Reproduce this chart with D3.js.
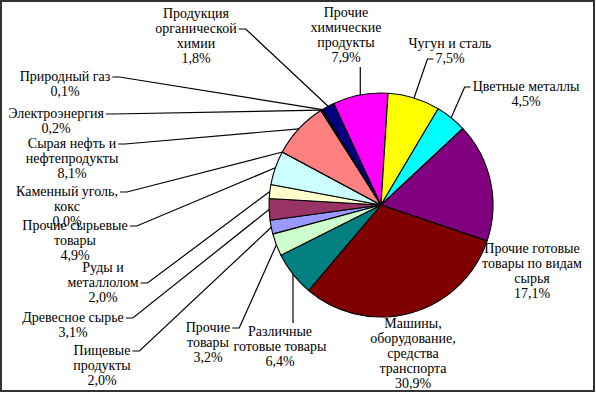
<!DOCTYPE html>
<html><head><meta charset="utf-8">
<script src="https://cdnjs.cloudflare.com/ajax/libs/d3/7.8.5/d3.min.js"></script>
<style>
html,body{margin:0;padding:0;background:#fff;}
svg{display:block;}
</style></head>
<body>
<svg id="chart" width="596" height="393"></svg>
<script>
// ---- data ----
const categories = [
  "Пищевые\nпродукты",
  "Древесное сырье",
  "Руды и\nметаллолом",
  "Прочие сырьевые\nтовары",
  "Каменный уголь,\nкокс",
  "Сырая нефть и\nнефтепродукты",
  "Электроэнергия",
  "Природный газ",
  "Продукция\nорганической\nхимии",
  "Прочие\nхимические\nпродукты",
  "Чугун и сталь",
  "Цветные металлы",
  "Прочие готовые\nтовары по видам\nсырья",
  "Машины,\nоборудование,\nсредства\nтранспорта",
  "Различные\nготовые товары",
  "Прочие\nтовары"
];
const values = [2.0, 3.1, 2.0, 4.9, 0.0, 8.1, 0.2, 0.1, 1.8, 7.9, 7.5, 4.5, 17.1, 30.9, 6.4, 3.2];
const colors = ["#9999FF","#993366","#FFFFCC","#CCFFFF","#660066","#FF8080","#0066CC","#CCCCFF",
                "#000080","#FF00FF","#FFFF00","#00FFFF","#800080","#800000","#008080","#CCFFCC"];

// ---- layout (label placement: centre x, first-line centre y, leader anchor) ----
const labelLayout = [
  {x:102, y:350, a:"r", line:0},
  {x:73,  y:317, a:"r", line:0},
  {x:103, y:267, a:"r", line:1},
  {x:75,  y:225, a:"r", line:0},
  {x:67,  y:191, a:"r", line:0},
  {x:72,  y:143, a:"r", line:0},
  {x:56,  y:113, a:"r", line:0},
  {x:65,  y:76,  a:"r", line:0},
  {x:196, y:13,  a:"r", line:1},
  {x:346, y:12,  a:"b"},
  {x:450, y:43,  a:"l", line:1},
  {x:526, y:86,  a:"l", line:0},
  {x:532, y:248, a:"n"},
  {x:413, y:323, a:"n"},
  {x:280, y:331, a:"t"},
  {x:208, y:327, a:"r", line:0}
];

const W = 596, H = 393;
const cx = 381, cy = 205, R = 112;
const lineH = 15;
const FONT = "'Liberation Serif', 'Times New Roman', Times, 'DejaVu Serif', serif";
const svg = d3.select("#chart");

svg.append("rect").attr("x",1).attr("y",1).attr("width",W-3).attr("height",H-3)
  .attr("fill","#fff").attr("stroke","#333").attr("stroke-width",2);

const total = d3.sum(values);
const startDeg = 3.6 - d3.sum(values.slice(0,10))/total*360;
const pie = d3.pie().sort(null).value(d=>d)
  .startAngle(startDeg*Math.PI/180).endAngle(startDeg*Math.PI/180 + 2*Math.PI);
const arcs = pie(values);
const arc = d3.arc().innerRadius(0).outerRadius(R);

const g = svg.append("g").attr("transform",`translate(${cx},${cy})`);
g.selectAll("path").data(arcs).enter().append("path")
  .attr("d",arc).attr("fill",(d,i)=>colors[i])
  .attr("stroke","#000").attr("stroke-width",1.1).attr("stroke-linejoin","round");

const fmt = v => v.toFixed(1).replace(".",",") + "%";
const edgePt = d => { const m=(d.startAngle+d.endAngle)/2; return [cx+R*Math.sin(m), cy-R*Math.cos(m)]; };

const lg = svg.append("g").attr("font-family",FONT).attr("font-size",14).attr("fill","#000");
const leaders = svg.append("g");
categories.forEach((c,i)=>{
  const L = labelLayout[i];
  const lines = c.split("\n").concat([fmt(values[i])]);
  const t = lg.append("text").attr("text-anchor","middle").style("font-family",FONT);
  const tspans = lines.map((s,k)=> t.append("tspan").attr("x",L.x).attr("y",L.y + k*lineH + 5).text(s));
  const p = edgePt(arcs[i]);
  let pts = null;
  if (L.a === "r" || L.a === "l") {
    const w = tspans[L.line].node().getComputedTextLength();
    const yy = L.y + L.line*lineH + 1;
    if (L.a === "r") { const x0 = L.x + w/2 + 2; pts = [[x0,yy],[x0+7,yy],p]; }
    else { const x0 = L.x - w/2 - 2; pts = [[x0,yy],[x0-6,yy],p]; }
  } else if (L.a === "b") {
    pts = [[p[0], L.y + (lines.length-1)*lineH + 10], p];
  } else if (L.a === "t") {
    pts = [[p[0], L.y - 8], p];
  }
  if (pts) leaders.append("path").attr("d", d3.line()(pts))
    .attr("fill","none").attr("stroke","#000").attr("stroke-width",1.2);
});
</script>
</body></html>
